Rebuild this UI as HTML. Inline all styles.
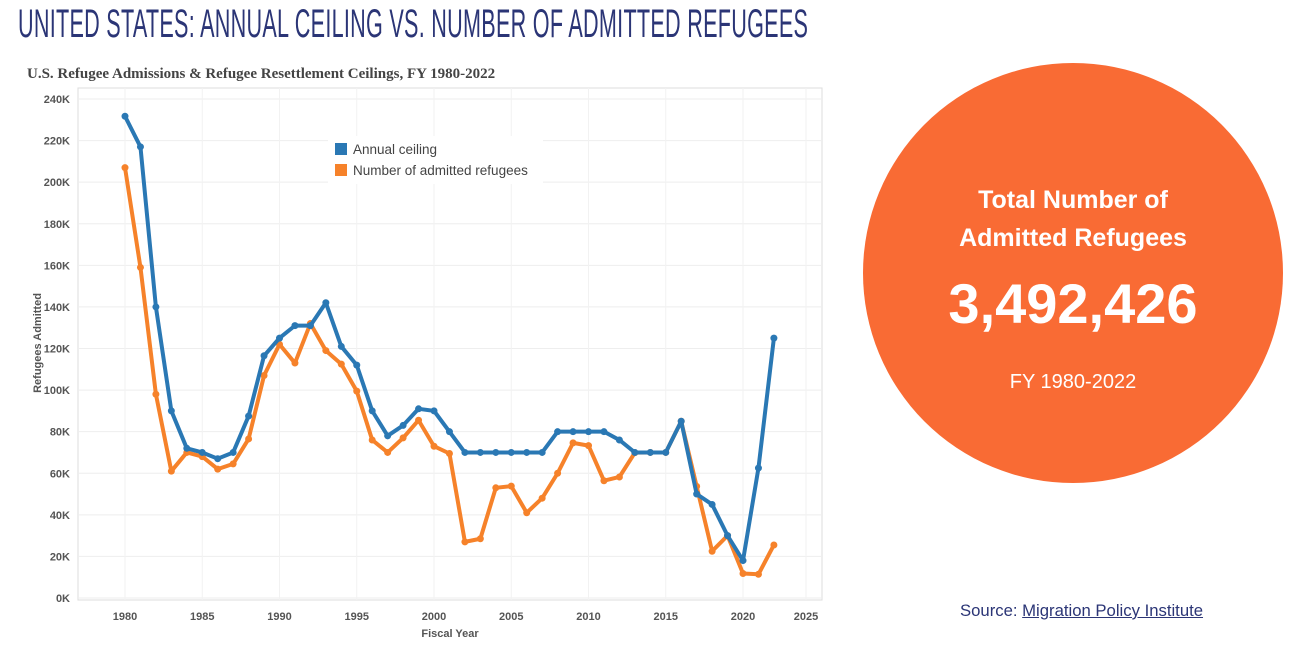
<!DOCTYPE html>
<html><head><meta charset="utf-8"><style>
body{margin:0;width:1300px;height:654px;background:#fff;overflow:hidden;position:relative;font-family:"Liberation Sans",sans-serif}
#title{position:absolute;left:18px;top:2px;font-size:40px;color:#2b3576;white-space:nowrap;transform:scaleX(0.54);transform-origin:left top;letter-spacing:0.5px}
#circle{position:absolute;left:863px;top:63px;width:420px;height:420px;border-radius:50%;background:#f96b34;color:#fff;text-align:center}
#source{position:absolute;left:960px;top:601px;font-size:16.7px;color:#2b3576}
#source a{color:#2b3576;text-decoration:underline}
</style></head><body>
<div id="title">UNITED STATES: ANNUAL CEILING VS. NUMBER OF ADMITTED REFUGEES</div>
<svg id="chart" width="840" height="654" style="position:absolute;left:0;top:0"></svg>
<div id="circle">
<div style="position:absolute;top:118px;width:100%;font-size:25px;font-weight:bold;line-height:38px">Total Number of<br>Admitted Refugees</div>
<div style="position:absolute;top:208px;width:100%;font-size:56px;font-weight:bold">3,492,426</div>
<div style="position:absolute;top:308px;width:100%;font-size:20px">FY 1980-2022</div>
</div>
<div id="source">Source: <a>Migration Policy Institute</a></div>
<script>
const years=[];for(let y=1980;y<=2022;y++)years.push(y);
const ceiling=[231.7,217,140,90,72,70,67,70,87.5,116.5,125,131,131,142,121,112,90,78,83,91,90,80,70,70,70,70,70,70,80,80,80,80,76,70,70,70,85,50,45,30,18,62.5,125];
const admitted=[207,159,98,61,70,68,62,64.5,76.5,107,122,113,132,119,112.5,99.5,76,70,77,85.5,73,69.5,27,28.5,53,53.8,41,48,60,74.6,73.3,56.4,58.2,69.9,70,70,85,53.7,22.5,30,11.8,11.4,25.5];
const yTicks=[0,20,40,60,80,100,120,140,160,180,200,220,240];
const xTicks=[1980,1985,1990,1995,2000,2005,2010,2015,2020,2025];
const svg=document.getElementById('chart');const NS='http://www.w3.org/2000/svg';
const X=y=>125+(y-1980)*15.45;const Y=v=>598-v*(598-99)/240;
function mk(t,a,p){const e=document.createElementNS(NS,t);for(const k in a)e.setAttribute(k,a[k]);(p||svg).appendChild(e);return e;}
let t=mk('text',{x:27,y:78,'font-family':'Liberation Serif, serif','font-size':15,'font-weight':'bold',fill:'#444'});t.textContent='U.S. Refugee Admissions & Refugee Resettlement Ceilings, FY 1980-2022';


mk('rect',{x:78,y:88,width:744,height:512,fill:'none',stroke:'#ddd'});
yTicks.forEach(v=>{const l=mk('line',{x1:78,x2:822,y1:Y(v),y2:Y(v),stroke:'#eee'});


const tx=mk('text',{x:70,y:Y(v)+4,'text-anchor':'end','font-size':11,'font-weight':'bold',fill:'#555'});tx.textContent=v+'K';

});
xTicks.forEach(v=>{const xx=Math.min(X(v),806);const l=mk('line',{x1:xx,x2:xx,y1:88,y2:600,stroke:'#f2f2f2'});


const tx=mk('text',{x:xx,y:620,'text-anchor':'middle','font-size':11,'font-weight':'bold',fill:'#555'});tx.textContent=v;

});
t=mk('text',{x:450,y:637,'text-anchor':'middle','font-size':11,'font-weight':'bold',fill:'#555'});t.textContent='Fiscal Year';


t=mk('text',{x:41,y:343,'text-anchor':'middle','font-size':11,'font-weight':'bold',fill:'#555',transform:'rotate(-90 41 343)'});t.textContent='Refugees Admitted';


function series(data,color,name){const pts=data.map((v,i)=>X(years[i])+','+Y(v)).join(' ');
const pl=mk('polyline',{points:pts,fill:'none',stroke:color,'stroke-width':4,'stroke-linejoin':'round'});


data.forEach((v,i)=>{const c=mk('circle',{cx:X(years[i]),cy:Y(v),r:3.5,fill:color});

});}
series(admitted,'#f6822a','admitted');
series(ceiling,'#2a78b4','ceiling');
mk('rect',{x:328,y:136,width:215,height:48,fill:'#fff'});
[['#2a78b4','Annual ceiling',150],['#f6822a','Number of admitted refugees',171]].forEach(([c,l,y])=>{
const r=mk('rect',{x:335,y:y-7,width:12,height:12,fill:c});


const tx=mk('text',{x:353,y:y+4,'font-size':13.5,fill:'#444'});tx.textContent=l;

});
</script>
</body></html>
